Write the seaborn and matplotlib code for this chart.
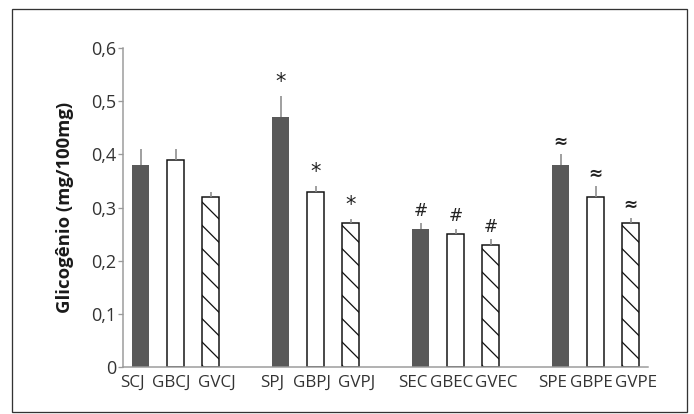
import numpy as np
import pandas as pd
import matplotlib
matplotlib.use('Agg')
import matplotlib.pyplot as plt
import matplotlib.transforms as mtransforms
from matplotlib.patches import Rectangle
import seaborn as sns

# dados
grupos = ['SCJ', 'GBCJ', 'GVCJ', 'SPJ', 'GBPJ', 'GVPJ',
          'SEC', 'GBEC', 'GVEC', 'SPE', 'GBPE', 'GVPE']
tipos = ['S', 'GB', 'GV'] * 4
medias = [0.38, 0.39, 0.32, 0.47, 0.33, 0.27, 0.26, 0.25, 0.23, 0.38, 0.32, 0.27]
erros = [0.03, 0.02, 0.01, 0.04, 0.01, 0.008, 0.01, 0.01, 0.01, 0.02, 0.02, 0.01]
marcas = ['', '', '', '*', '*', '*', '#', '#', '#', '≈', '≈', '≈']
yticks = [0, 0.1, 0.2, 0.3, 0.4, 0.5, 0.6]
ytick_labels = ['0', '0,1', '0,2', '0,3', '0,4', '0,5', '0,6']

# espacos vazios entre os quatro grupos
ordem = grupos[0:3] + [' '] + grupos[3:6] + ['  '] + grupos[6:9] + ['   '] + grupos[9:12]

df = pd.DataFrame({'grupo': grupos, 'tipo': tipos, 'glicogenio': medias})

sns.set_theme(style='white')
plt.rcParams['font.family'] = ['Open Sans', 'DejaVu Sans']
plt.rcParams['hatch.linewidth'] = 1.3

DPI = 70
def px(v):
    # pixels -> pontos
    return v * 72 / DPI

fig = plt.figure(figsize=(694 / DPI, 414 / DPI), dpi=DPI)
ax = fig.add_axes([123 / 694, 47 / 414, 525 / 694, 319 / 414])

sns.barplot(data=df, x='grupo', y='glicogenio', hue='tipo', order=ordem,
            hue_order=['S', 'GB', 'GV'],
            palette={'S': '#595959', 'GB': 'white', 'GV': 'white'},
            width=0.46, dodge=False, errorbar=None, legend=False, ax=ax)

for bar in ax.containers[0]:
    bar.set_edgecolor('#595959')
    bar.set_linewidth(0)
for bar in ax.containers[1]:
    bar.set_edgecolor('#111111')
    bar.set_linewidth(px(1.5))
for bar in ax.containers[2]:
    bar.set_edgecolor('#111111')
    bar.set_linewidth(px(1.5))
    bar.set_hatch('\\')

# barras de erro (so para cima)
xs = [ordem.index(g) for g in grupos]
topo = np.array(medias) + np.array(erros)
ax.vlines(xs, medias, topo, color='#8a8a8a', lw=px(1.6), zorder=1)

for x, t, m in zip(xs, topo, marcas):
    if m == '*':
        ax.text(x, t + 0.026, m, ha='center', va='center', fontsize=px(21),
                family='DejaVu Sans', color='#222222')
    elif m:
        ax.text(x, t + 0.024, m, ha='center', va='center', fontsize=px(17),
                fontweight='bold' if m == '≈' else 'normal',
                family='DejaVu Sans', color='#222222')

ax.set_xlim(-0.5, len(ordem) - 0.5)
ax.set_ylim(0, 0.6)
ax.set_yticks(yticks)
ax.set_yticklabels(ytick_labels)
ax.set_xticks(np.arange(len(ordem)) - 0.5, minor=True)
ax.tick_params(axis='x', which='major', length=0, pad=px(8),
               labelsize=px(17), labelcolor='#333333')
ax.tick_params(axis='x', which='minor', length=px(7), direction='inout',
               color='#9a9a9a', width=px(1.3))
ax.tick_params(axis='y', length=px(5), color='#9a9a9a', width=px(1.3),
               pad=px(2), labelsize=px(18), labelcolor='#333333', left=True)

# rotulos de cada grupo ficam um pouco espalhados, como no original
desloc = {0: -8, 1: -4, 2: 6}
for lab in ax.get_xticklabels():
    nome = lab.get_text()
    if nome.strip():
        dx = desloc[grupos.index(nome) % 3]
        lab.set_transform(lab.get_transform() +
                          mtransforms.ScaledTranslation(dx / DPI, 0, fig.dpi_scale_trans))

ax.set_xlabel('')
ax.set_ylabel('Glicogênio (mg/100mg)', fontweight='bold', fontsize=px(18.5),
              color='#1a1a1a')
ax.yaxis.set_label_coords(-0.093, 0.5)

for s in ['top', 'right']:
    ax.spines[s].set_visible(False)
for s in ['left', 'bottom']:
    ax.spines[s].set_color('#9a9a9a')
    ax.spines[s].set_linewidth(px(1.5))

# moldura externa
fig.patches.append(Rectangle((12 / 694, 2 / 414), 675 / 694, 403 / 414,
                             transform=fig.transFigure, fill=False,
                             edgecolor='#333333', lw=px(1.3)))

fig.savefig('out.png', dpi=DPI)
